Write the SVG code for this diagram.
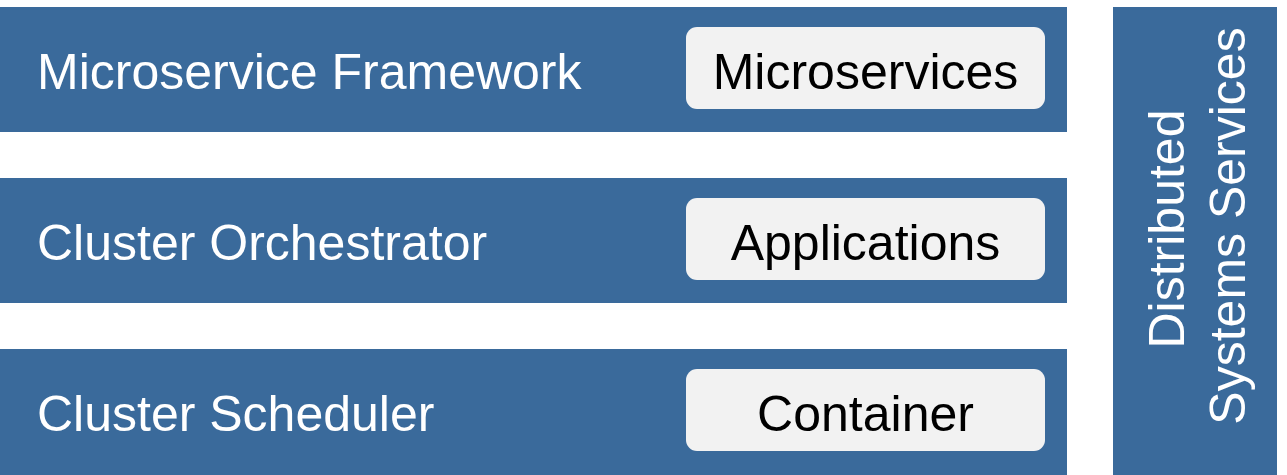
<svg xmlns="http://www.w3.org/2000/svg" width="1287" height="475" viewBox="0 0 1287 475">
<style>
.bar{fill:#3A6A9B}
.box{fill:#F2F2F2}
.lt{font-family:"Liberation Sans",Arial,sans-serif;font-size:50px;fill:#FFFFFF}
.bt{font-family:"Liberation Sans",Arial,sans-serif;font-size:50px;fill:#000000;text-anchor:middle}
.vt{font-family:"Liberation Sans",Arial,sans-serif;font-size:50px;fill:#FFFFFF;text-anchor:middle}
</style>
<rect width="1287" height="475" fill="#FFFFFF"/>
<g id="microservice-framework">
<rect class="bar" x="0" y="7" width="1067" height="125"/>
<text class="lt" x="37" y="89">Microservice Framework</text>
</g>
<g id="microservices">
<rect class="box" x="686" y="27" width="359" height="82" rx="11"/>
<text class="bt" x="865.5" y="89">Microservices</text>
</g>
<g id="cluster-orchestrator">
<rect class="bar" x="0" y="178" width="1067" height="125"/>
<text class="lt" x="37" y="260">Cluster Orchestrator</text>
</g>
<g id="applications">
<rect class="box" x="686" y="198" width="359" height="82" rx="11"/>
<text class="bt" x="865.5" y="260">Applications</text>
</g>
<g id="cluster-scheduler">
<rect class="bar" x="0" y="349" width="1067" height="126"/>
<text class="lt" x="37" y="431">Cluster Scheduler</text>
</g>
<g id="container">
<rect class="box" x="686" y="369" width="359" height="82" rx="11"/>
<text class="bt" x="865.5" y="431">Container</text>
</g>
<g id="distributed-systems-services">
<rect class="bar" x="1113" y="7" width="164" height="468"/>
<text class="vt" transform="translate(1184,229) rotate(-90)">Distributed</text>
<text class="vt" transform="translate(1245,226) rotate(-90)">Systems Services</text>
</g>
<g id="connectors"></g>
</svg>
